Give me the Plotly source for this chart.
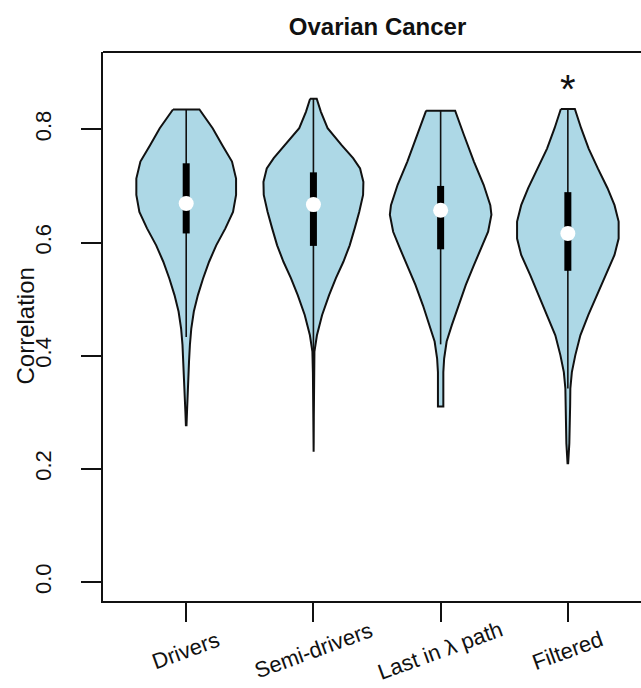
import plotly.graph_objects as go

# ---- data -----------------------------------------------------------------
categories = ["Drivers", "Semi-drivers", "Last in \u03bb path", "Filtered"]
y_ticks = [0.0, 0.2, 0.4, 0.6, 0.8]
y_tick_text = ["0.0", "0.2", "0.4", "0.6", "0.8"]

# kernel-density profiles: correlation grid and relative density (1 = widest violin)
drivers_y = [0.835, 0.802, 0.772, 0.743, 0.713, 0.684, 0.654, 0.625, 0.595, 0.566,
             0.536, 0.507, 0.478, 0.448, 0.419, 0.389, 0.360, 0.330, 0.301, 0.277]
drivers_d = [0.26, 0.52, 0.71, 0.90, 0.98, 0.98, 0.92, 0.77, 0.59, 0.45,
             0.33, 0.23, 0.15, 0.10, 0.073, 0.055, 0.04, 0.026, 0.016, 0.006]

semi_y = [0.854, 0.831, 0.802, 0.772, 0.749, 0.731, 0.707, 0.684, 0.654, 0.625, 0.595,
          0.566, 0.537, 0.507, 0.472, 0.436, 0.407, 0.37, 0.33, 0.29, 0.25, 0.23]
semi_d = [0.065, 0.147, 0.279, 0.554, 0.78, 0.917, 0.982, 0.976, 0.90, 0.811, 0.713,
          0.589, 0.442, 0.308, 0.171, 0.069, 0.02, 0.01, 0.008, 0.008, 0.006, 0.004]

last_y = [0.833, 0.790, 0.743, 0.702, 0.666, 0.649, 0.619, 0.590, 0.560,
          0.525, 0.489, 0.454, 0.425, 0.395, 0.371, 0.342, 0.310]
last_d = [0.285, 0.458, 0.654, 0.845, 0.976, 0.998, 0.933, 0.802, 0.654,
          0.495, 0.348, 0.22, 0.118, 0.069, 0.053, 0.053, 0.053]

filtered_y = [0.836, 0.802, 0.766, 0.731, 0.696, 0.666, 0.637, 0.607, 0.578, 0.542,
              0.507, 0.472, 0.436, 0.401, 0.371, 0.342, 0.312, 0.281, 0.245, 0.21]
filtered_d = [0.138, 0.261, 0.409, 0.589, 0.78, 0.917, 0.998, 0.998, 0.917, 0.737,
              0.574, 0.403, 0.246, 0.147, 0.079, 0.049, 0.045, 0.043, 0.029, 0.006]

# box-plot summaries
q1 = [0.616, 0.594, 0.588, 0.550]
median = [0.669, 0.667, 0.657, 0.616]
q3 = [0.740, 0.724, 0.700, 0.689]
whisker_lo = [0.433, 0.400, 0.420, 0.342]
whisker_hi = [0.835, 0.854, 0.833, 0.836]

significant = [False, False, False, True]

profiles = [(drivers_y, drivers_d), (semi_y, semi_d), (last_y, last_d), (filtered_y, filtered_d)]

# ---- styling --------------------------------------------------------------
FONT = "Liberation Sans, Arial, Helvetica, sans-serif"
FILL = "#ADD8E6"
INK = "#111111"
HALF_WIDTH = 0.4   # half width of the widest violin, in category units
BOX_WIDTH = 7      # px

fig = go.Figure()

for i, (ys, ds) in enumerate(profiles):
    c = i + 1
    xs_left = [c - d * HALF_WIDTH for d in ds]
    xs_right = [c + d * HALF_WIDTH for d in reversed(ds)]
    px = xs_left + xs_right + [xs_left[0]]
    py = list(ys) + list(reversed(ys)) + [ys[0]]
    fig.add_trace(go.Scatter(
        x=px, y=py, mode="lines", fill="toself", fillcolor=FILL,
        line=dict(color=INK, width=2, shape="linear"),
        hoverinfo="skip", showlegend=False))
    # whisker
    fig.add_trace(go.Scatter(
        x=[c, c], y=[whisker_lo[i], whisker_hi[i]], mode="lines",
        line=dict(color=INK, width=1.6), hoverinfo="skip", showlegend=False))
    # inter-quartile box
    fig.add_trace(go.Scatter(
        x=[c, c], y=[q1[i], q3[i]], mode="lines",
        line=dict(color="black", width=BOX_WIDTH), hoverinfo="skip", showlegend=False))

# medians
fig.add_trace(go.Scatter(
    x=[i + 1 for i in range(len(categories))], y=median, mode="markers",
    marker=dict(color="white", size=15, line=dict(width=0)),
    hoverinfo="skip", showlegend=False))

annotations = []
for i, name in enumerate(categories):
    annotations.append(dict(
        x=i + 1, xref="x", y=-0.091, yref="paper", text=name, showarrow=False,
        textangle=-20, xanchor="center", yanchor="middle",
        font=dict(family=FONT, size=22, color=INK)))
    if significant[i]:
        annotations.append(dict(
            x=i + 1, xref="x", y=0.872, yref="y", text="*", showarrow=False,
            xanchor="center", yanchor="middle",
            font=dict(family=FONT, size=40, color=INK)))

annotations.append(dict(
    x=0, xref="paper", xshift=-78, y=0.5, yref="paper", text="Correlation",
    textangle=-90, showarrow=False, xanchor="center", yanchor="middle",
    font=dict(family=FONT, size=24, color=INK)))

fig.update_layout(
    width=641, height=688,
    margin=dict(l=103, r=0, t=52, b=87, pad=0),
    paper_bgcolor="white", plot_bgcolor="white",
    title=dict(text="<b>Ovarian Cancer</b>", x=0.589, xref="container", xanchor="center",
               y=1 - 26.7 / 688, yref="container", yanchor="middle",
               font=dict(family=FONT, size=24, color=INK)),
    annotations=annotations,
    shapes=[dict(type="line", xref="paper", yref="paper", x0=0, x1=1, y0=1, y1=1,
                 line=dict(color=INK, width=2))],
    xaxis=dict(range=[0.346, 4.575], showgrid=False, zeroline=False,
               showline=True, linecolor=INK, linewidth=2, mirror=False,
               tickmode="array", tickvals=[1, 2, 3, 4], ticks="outside",
               ticklen=19, tickwidth=2, tickcolor=INK, showticklabels=False),
    yaxis=dict(range=[-0.0336, 0.9367], showgrid=False, zeroline=False,
               showline=True, linecolor=INK, linewidth=2, mirror=False,
               tickmode="array", tickvals=y_ticks, ticktext=y_tick_text,
               ticks="outside", ticklen=20, tickwidth=2, tickcolor=INK,
               tickangle=-90, ticklabelstandoff=21,
               tickfont=dict(family=FONT, size=22, color=INK)),
)

fig.write_html("out.html")
